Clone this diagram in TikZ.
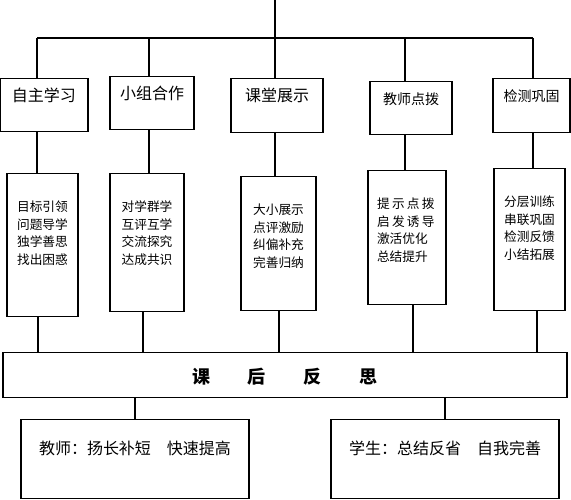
\documentclass[tikz,border=0pt]{standalone}
\usepackage{fontspec}
\setmainfont{Noto Sans CJK SC}

\begin{document}
\begin{tikzpicture}[x=1pt,y=-1pt,line width=1.3pt,
  topbox/.style={draw,anchor=north,inner sep=0pt,text height=23pt,font=\fontsize{16}{18}\selectfont},
  midbox/.style={draw,anchor=north,inner sep=0pt,text height=38pt,align=center,font=\fontsize{12.7}{17.5}\selectfont},
  sumbox/.style={draw,anchor=north,inner sep=0pt,text height=35pt,text depth=44pt,minimum width=228pt,font=\fontsize{16}{18}\selectfont}]
\useasboundingbox (0,0) rectangle (571,500);
% five steps
\node[topbox,minimum width=88pt,text depth=30pt] (t1) at (44,78) {自主学习};
\node[topbox,minimum width=84pt,text depth=30pt] (t2) at (152,76) {小组合作};
\node[topbox,minimum width=92pt,text depth=31pt] (t3) at (277,78) {课堂展示};
\node[topbox,minimum width=82pt,text depth=30pt,font=\fontsize{14}{16}\selectfont] (t4) at (411,81) {教师点拨};
\node[topbox,minimum width=77pt,text depth=31pt,font=\fontsize{14}{16}\selectfont] (t5) at (531.5,78) {检测巩固};
% details
\node[midbox,text width=71pt,text depth=105pt] (m1) at (42.5,173) {目标引领\\问题导学\\独学善思\\找出困惑};
\node[midbox,text width=74pt,text depth=100pt] (m2) at (147,173) {对学群学\\互评互学\\交流探究\\达成共识};
\node[midbox,text width=75pt,text depth=96pt] (m3) at (278.5,176) {大小展示\\点评激励\\纠偏补充\\完善归纳};
\node[midbox,text width=60pt,inner xsep=9pt,align=left,text depth=96pt] (m4) at (407,170)
  {\mbox{提\hspace{2.3pt}示\hspace{2.3pt}点\hspace{2.3pt}拨}\\\mbox{启\hspace{2.3pt}发\hspace{2.3pt}诱\hspace{2.3pt}导}\\激活优化\\总结提升};
\node[midbox,text width=71pt,text depth=104pt] (m5) at (529.5,168) {分层训练\\串联巩固\\检测反馈\\小结拓展};
% reflection
\node[draw,anchor=north,inner sep=0pt,minimum width=564pt,text height=31pt,text depth=14pt,font=\fontsize{18}{20}\selectfont\bfseries] (r) at (285,352) {课\hspace{38pt}后\hspace{38pt}反\hspace{38pt}思};
\node[sumbox] (b1) at (135,419) {教师：扬长补短　快速提高};
\node[sumbox] (b2) at (445,419) {学生：总结反省　自我完善};
% lines
\coordinate (root) at (275,0);
\coordinate (barL) at (37,38);
\coordinate (barR) at (533,38);
\draw (root) -- (root |- barL);
\draw (barL) -- (barR);
\foreach \i/\x in {1/37,2/149,3/275,4/405,5/533}{
  \coordinate (d\i) at (\x,38);
  \draw (d\i) -- (d\i |- t\i.north);
  \draw (d\i |- t\i.south) -- (d\i |- m\i.north);
}
\foreach \i/\x in {1/38,2/143,3/279,4/413,5/537}{
  \coordinate (u\i) at (\x,352);
  \draw (u\i |- m\i.south) -- (u\i |- r.north);
}
\draw (r.south -| b1.north) -- (b1.north);
\draw (r.south -| b2.north) -- (b2.north);
\end{tikzpicture}
\end{document}
